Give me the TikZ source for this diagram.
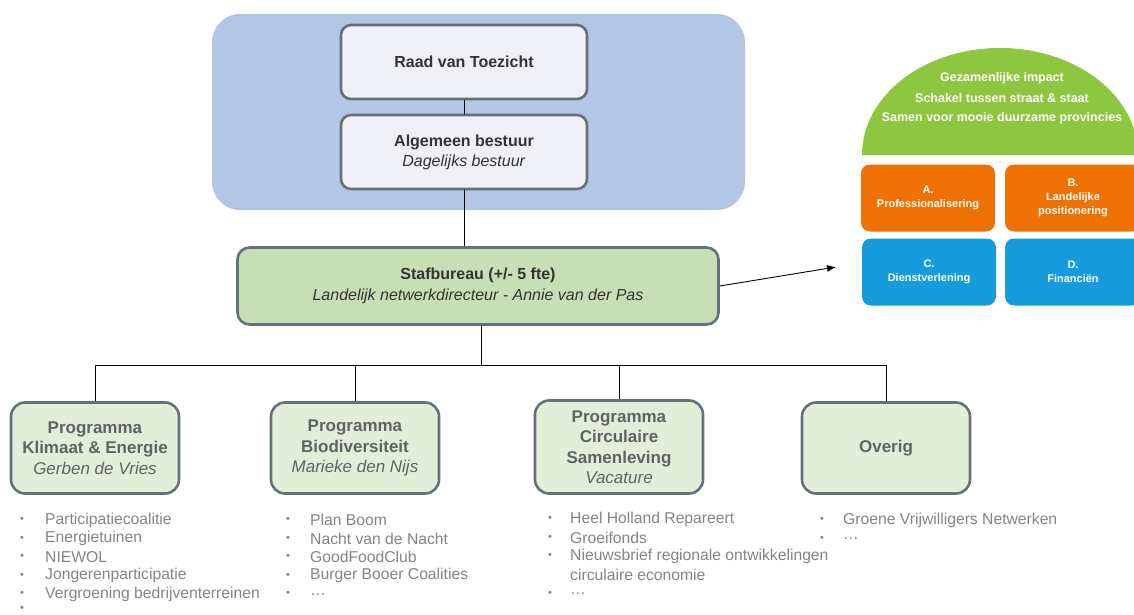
\documentclass[tikz,border=0pt]{standalone}
\usepackage{fontspec}
\setmainfont{Liberation Sans}
\usetikzlibrary{arrows.meta}
\definecolor{bgblue}{HTML}{B4C6E6}
\definecolor{boxedge}{HTML}{66707A}
\definecolor{topfill}{HTML}{EEF0F5}
\definecolor{staffill}{HTML}{C6DFB4}
\definecolor{progfill}{HTML}{E3EED9}
\definecolor{darktxt}{HTML}{333333}
\definecolor{progtxt}{HTML}{626262}
\definecolor{listtxt}{HTML}{848484}
\definecolor{domegreen}{HTML}{8DC63F}
\definecolor{orangeb}{HTML}{EE7203}
\definecolor{blueb}{HTML}{169BDD}
\tikzset{
  x=1pt, y=-1pt,
  topbox/.style={draw=boxedge, line width=2.6pt, fill=topfill, rounded corners=10pt, minimum width=246pt, minimum height=74pt, align=center, text=darktxt, font=\fontsize{16}{20}\selectfont, inner sep=0pt},
  stafbox/.style={draw=boxedge, line width=2.6pt, fill=staffill, rounded corners=12pt, minimum width=481pt, minimum height=77pt, align=center, text=darktxt, font=\fontsize{16}{21}\selectfont, inner sep=0pt},
  progbox/.style={draw=boxedge, line width=2.6pt, fill=progfill, rounded corners=14pt, minimum width=168pt, minimum height=91pt, align=center, text=progtxt, font=\fontsize{17}{20.5}\selectfont, inner sep=0pt},
  tile/.style={rounded corners=9pt, minimum width=134pt, minimum height=67pt, align=center, text=white, font=\fontsize{11}{14}\selectfont\bfseries, inner sep=0pt},
  conn/.style={draw=black, line width=0.9pt},
  listitem/.style={anchor=west, text=listtxt, font=\fontsize{15.7}{18.7}\selectfont, inner sep=0pt},
  bullet/.style={anchor=center, text=listtxt, font=\fontsize{11}{13}\selectfont, inner sep=0pt},
  dometxt/.style={text=white, font=\fontsize{12.5}{14}\selectfont\bfseries, inner sep=0pt}
}
\begin{document}
\begin{tikzpicture}
\useasboundingbox (0,0) rectangle (1134,615);
% blue background
\fill[bgblue, rounded corners=28pt] (212,14) rectangle (745,210);
% top boxes
\node[topbox] (rvt) at (464,62) {\textbf{Raad van Toezicht}};
\node[topbox] (ab) at (464,152) {\textbf{Algemeen bestuur}\\\textit{Dagelijks bestuur}};
\node[stafbox] (staf) at (478,286) {\textbf{Stafbureau (+/- 5 fte)}\\\textit{Landelijk netwerkdirecteur - Annie van der Pas}};
% program boxes
\node[progbox] (p1) at (95,448) {\textbf{Programma}\\\textbf{Klimaat \& Energie}\\\textit{Gerben de Vries}};
\node[progbox] (p2) at (355,448) {\textbf{Programma}\\\textbf{Biodiversiteit}\\\textit{Marieke den Nijs}};
\node[progbox, minimum height=93pt] (p3) at (619,447) {\textbf{Programma}\\\textbf{Circulaire}\\\textbf{Samenleving}\\\textit{Vacature}};
\node[progbox] (p4) at (886,448) {\textbf{Overig}};
% connectors
\draw[conn] (rvt.south) -- (ab.north);
\draw[conn] (ab.south) -- (staf.north -| ab.south);
\coordinate (split) at (481,365);
\draw[conn] (staf.south -| split) -- (split);
\draw[conn] (p1.north) |- (split);
\draw[conn] (p4.north) |- (split);
\draw[conn] (p2.north) -- (p2.north |- split);
\draw[conn] (p3.north) -- (p3.north |- split);
\coordinate (arrowend) at (836,267);
\draw[conn, -{Latex[length=9pt,width=7pt]}] (staf.east) -- (arrowend);
% right side: dome and tiles
\fill[domegreen] (862,155) arc[start angle=180, end angle=0, x radius=138pt, y radius=107pt] -- cycle;
\node[dometxt] (d1) at (1002,78) {Gezamenlijke impact};
\node[dometxt] (d2) at (1002,98) {Schakel tussen straat \& staat};
\node[dometxt] (d3) at (1002,118) {Samen voor mooie duurzame provincies};
\node[tile, fill=orangeb] (ta) at (928,198) {A.\\Professionalisering};
\node[tile, fill=orangeb, minimum width=136pt] (tb) at (1073,198) {B.\\Landelijke\\positionering};
\node[tile, fill=blueb] (tc) at (929,272) {C.\\Dienstverlening};
\node[tile, fill=blueb, minimum width=136pt] (td) at (1073,272) {D.\\Financiën};
% lists
\foreach \t [count=\i] in {Participatiecoalitie,Energietuinen,NIEWOL,Jongerenparticipatie,Vergroening bedrijventerreinen}{
  \node[bullet] (b1\i) at (22,{520+(\i-1)*18.6}) {•};
  \node[listitem] (l1\i) at (45,{520+(\i-1)*18.6}) {\t};
}
\node[bullet] (b16) at (22,609) {•};
\foreach \t [count=\i] in {Plan Boom,Nacht van de Nacht,GoodFoodClub,Burger Booer Coalities,…}{
  \node[bullet] (b2\i) at (288,{520+(\i-1)*18.6}) {•};
  \node[listitem] (l2\i) at (310,{520+(\i-1)*18.6}) {\t};
}
\foreach \t [count=\i] in {Heel Holland Repareert,Groeifonds,Nieuwsbrief regionale ontwikkelingen}{
  \node[bullet] (b3\i) at (550,{519+(\i-1)*18.6}) {•};
  \node[listitem] (l3\i) at (570,{519+(\i-1)*18.6}) {\t};
}
\node[listitem] (l34) at (570,575) {circulaire economie};
\node[bullet] (b35) at (550,594) {•};
\node[listitem] (l35) at (570,594) {…};
\node[bullet] (b41) at (822,520) {•};
\node[listitem] (l41) at (843,520) {Groene Vrijwilligers Netwerken};
\node[bullet] (b42) at (822,539) {•};
\node[listitem] (l42) at (843,539) {…};
\end{tikzpicture}
\end{document}
